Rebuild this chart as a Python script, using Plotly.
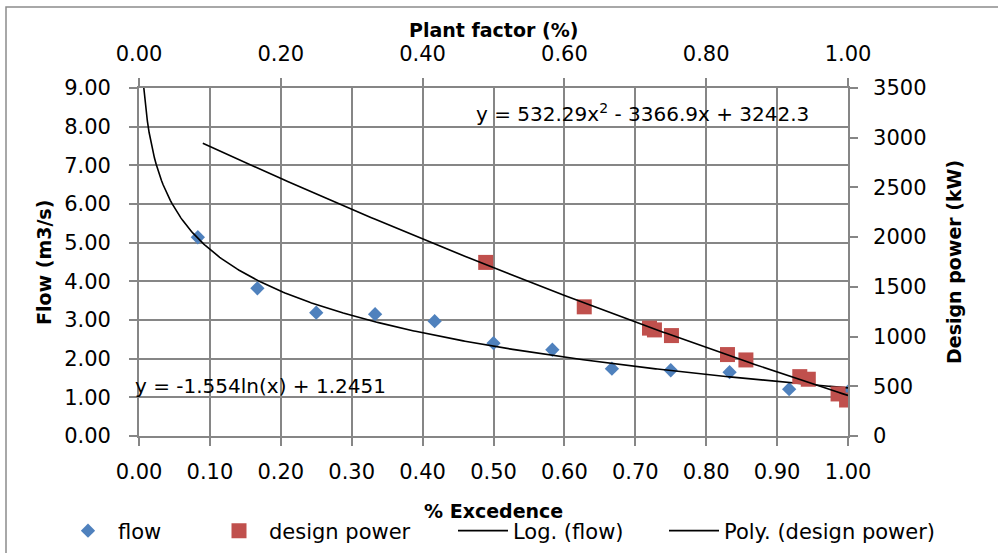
import numpy as np
import plotly.graph_objects as go

# ---- data ----
pct_excedence = [0.083, 0.167, 0.25, 0.333, 0.417, 0.5, 0.583, 0.667, 0.75, 0.833, 0.917, 1.0]
flow = [5.14, 3.82, 3.19, 3.15, 2.97, 2.40, 2.23, 1.74, 1.70, 1.65, 1.21, 1.15]

plant_factor = [0.489, 0.628, 0.720, 0.727, 0.751, 0.830, 0.856, 0.932, 0.944, 0.986, 0.998]
design_power = [1746, 1299, 1085, 1067, 1010, 819, 765, 597, 571, 423, 362]

# trendline coefficients (as shown on chart)
log_a, log_b = -1.554, 1.2451
poly_a, poly_b, poly_c = 532.29, -3366.9, 3242.3
log_x_range = [0.0068, 1.0]
poly_x_range = [0.09, 1.0]

x_ticks_bottom = [round(0.1 * i, 1) for i in range(11)]
x_ticks_top = [round(0.2 * i, 1) for i in range(6)]
y_ticks_left = list(range(10))
y_ticks_right = list(range(0, 3501, 500))

FONT = "DejaVu Sans"
GRID = "#868686"

xl = np.linspace(log_x_range[0], log_x_range[1], 400)
yl = log_a * np.log(xl) + log_b
xp = np.linspace(poly_x_range[0], poly_x_range[1], 200)
yp = poly_a * xp ** 2 + poly_b * xp + poly_c

fig = go.Figure()
fig.add_trace(go.Scatter(x=pct_excedence, y=flow, mode="markers", name="flow",
                         marker=dict(symbol="diamond", size=11, color="#4F81BD"),
                         xaxis="x", yaxis="y", legend="legend"))
fig.add_trace(go.Scatter(x=plant_factor, y=design_power, mode="markers", name="design power",
                         marker=dict(symbol="square", size=15, color="#C0504D"),
                         xaxis="x2", yaxis="y2", legend="legend2"))
fig.add_trace(go.Scatter(x=xl, y=yl, mode="lines", name="Log. (flow)",
                         line=dict(color="black", width=1.6),
                         xaxis="x", yaxis="y", legend="legend3"))
fig.add_trace(go.Scatter(x=xp, y=yp, mode="lines", name="Poly. (design power)",
                         line=dict(color="black", width=1.6),
                         xaxis="x2", yaxis="y2", legend="legend4"))

L, R, T, B = 139, 150, 88, 117
W, H = 998, 553
pw, ph = W - L - R, H - T - B

def px(xpix):
    return (xpix - L) / pw

def py(ypix):
    return (H - B - ypix) / ph

axis_common = dict(showline=True, linecolor=GRID, linewidth=1.8, ticks="outside",
                   tickcolor=GRID, ticklen=8, tickwidth=1.8,
                   tickfont=dict(family=FONT, size=21, color="black"), zeroline=False)

legend_common = dict(orientation="h", yanchor="middle", y=py(531), xanchor="left",
                     font=dict(family=FONT, size=21, color="black"), itemwidth=50,
                     bgcolor="rgba(0,0,0,0)", borderwidth=0)

fig.update_layout(
    width=W, height=H,
    margin=dict(l=L, r=R, t=T, b=B, autoexpand=False),
    paper_bgcolor="white", plot_bgcolor="white",
    font=dict(family=FONT, size=21, color="black"),
    xaxis=dict(range=[0, 1], tickvals=x_ticks_bottom, tickformat=".2f",
               showgrid=True, gridcolor=GRID, gridwidth=1.8,
               ticklabelstandoff=8, **axis_common),
    xaxis2=dict(range=[0, 1], tickvals=x_ticks_top, tickformat=".2f", overlaying="x", side="top",
                showgrid=False, anchor="y",
                ticklabelstandoff=9, **axis_common),
    yaxis=dict(range=[0, 9], tickvals=y_ticks_left, tickformat=".2f",
               showgrid=True, gridcolor=GRID, gridwidth=1.8,
               ticklabelstandoff=14, **axis_common),
    yaxis2=dict(range=[0, 3500], tickvals=y_ticks_right, overlaying="y", side="right",
                showgrid=False, anchor="x",
                ticklabelstandoff=11, **axis_common),
    legend=dict(x=px(58), **legend_common),
    legend2=dict(x=px(209), **legend_common),
    legend3=dict(x=px(453), **legend_common),
    legend4=dict(x=px(664), **legend_common),
    showlegend=True,
)

title_font = dict(family=FONT, size=19, color="black")
fig.add_annotation(x=px(493), y=py(30), xref="paper", yref="paper", text="<b>Plant factor (%)</b>",
                   showarrow=False, xanchor="center", yanchor="middle", font=title_font)
fig.add_annotation(x=px(493), y=py(511), xref="paper", yref="paper", text="<b>% Excedence</b>",
                   showarrow=False, xanchor="center", yanchor="middle", font=title_font)
fig.add_annotation(x=px(44), y=py(262), xref="paper", yref="paper", text="<b>Flow (m3/s)</b>",
                   showarrow=False, xanchor="center", yanchor="middle", textangle=-90, font=title_font)
fig.add_annotation(x=px(954), y=py(262), xref="paper", yref="paper", text="<b>Design power (kW)</b>",
                   showarrow=False, xanchor="center", yanchor="middle", textangle=-90, font=title_font)

fig.add_annotation(x=0.4725, y=8.35, xref="x", yref="y", xanchor="left", yanchor="middle",
                   text="y = 532.29x<sup>2</sup> - 3366.9x + 3242.3", showarrow=False,
                   font=dict(family=FONT, size=20, color="black"))
fig.add_annotation(x=px(133), y=py(386), xref="paper", yref="paper", xanchor="left", yanchor="middle",
                   text="y = -1.554ln(x) + 1.2451", showarrow=False,
                   font=dict(family=FONT, size=20, color="black"))

# outer chart border
fig.add_shape(type="rect", xref="paper", yref="paper",
              x0=px(6), x1=px(1005), y0=py(560), y1=py(7),
              line=dict(color="#8C8C8C", width=1.5), fillcolor="rgba(0,0,0,0)", layer="below")

fig.write_html("out.html")
